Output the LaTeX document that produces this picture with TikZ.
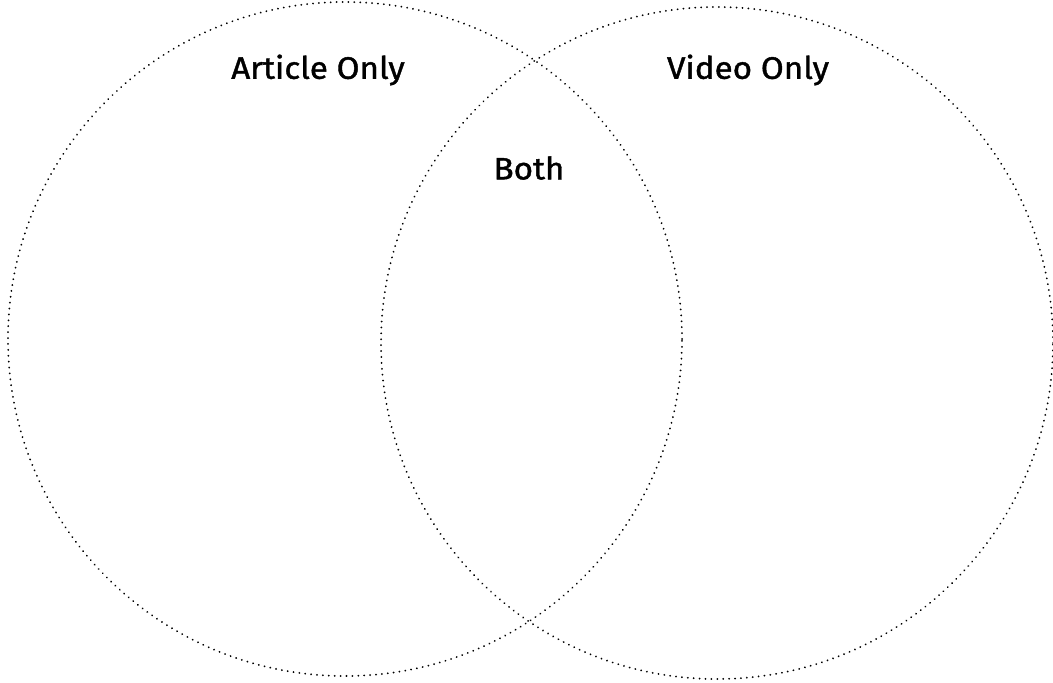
\documentclass[tikz,border=0pt]{standalone}
\usepackage{fontspec}
\setmainfont{Fira Sans}[FakeBold=1.3, FakeStretch=1.07]
\begin{document}
\begin{tikzpicture}[x=1pt,y=-1pt,
  setcircle/.style={draw=black, line width=2pt, dash pattern=on 0.01pt off 5.9pt, line cap=round},
  lbl/.style={font=\fontsize{31}{36}\selectfont, text=black, inner sep=0pt}]
\useasboundingbox (0,0) rectangle (1053,683);
\node[setcircle, circle, minimum size=674pt, inner sep=0pt] (article) at (345,339) {};
\node[setcircle, circle, minimum size=672pt, inner sep=0pt] (video) at (717,343) {};
\node[lbl] (la) at (318,70) {Article Only};
\node[lbl] (lv) at (748,70) {Video Only};
\node[lbl] (lb) at (529,168) {Both};
\end{tikzpicture}
\end{document}
